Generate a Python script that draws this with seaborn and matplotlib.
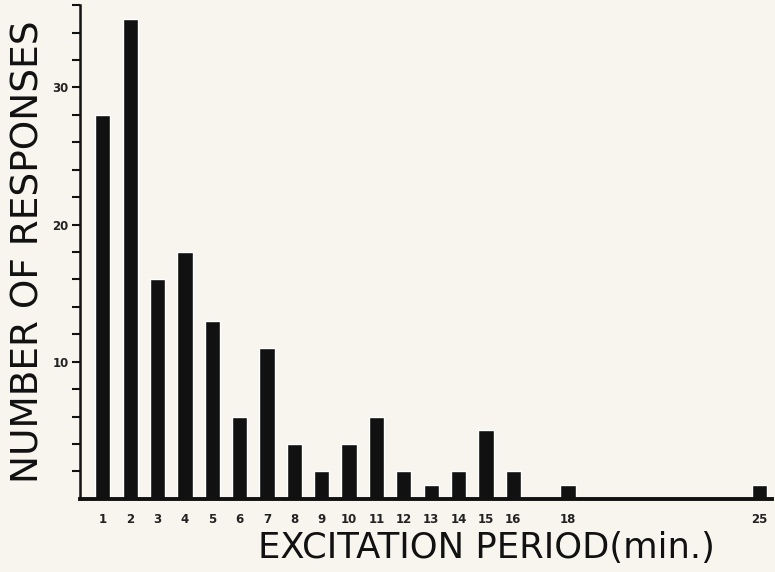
import numpy as np
import pandas as pd
import matplotlib
matplotlib.use('Agg')
import matplotlib.pyplot as plt
import seaborn as sns

# excitation period (min.) and number of responses
periods = [1, 2, 3, 4, 5, 6, 7, 8, 9, 10, 11, 12, 13, 14, 15, 16, 18, 25]
responses = [28, 35, 16, 18, 13, 6, 11, 4, 2, 4, 6, 2, 1, 2, 5, 2, 1, 1]
y_ticks = list(range(2, 37, 2))
y_labels = ['10' if t == 10 else '20' if t == 20 else '30' if t == 30 else '' for t in y_ticks]

df = pd.DataFrame({'period': periods, 'responses': responses})

sns.set_style('ticks')
plt.rcParams['font.family'] = ['DejaVu Sans']
bg = '#f8f5ef'

fig = plt.figure(figsize=(7.75, 5.72), dpi=100, facecolor=bg)
ax = fig.add_axes([0.103, 0.128, 0.893, 0.863], facecolor=bg)

sns.barplot(data=df, x='period', y='responses', native_scale=True,
            width=0.56, color='#111111', saturation=1, ax=ax)

ax.set_xlim(0.16, 25.45)
ax.set_ylim(0, 36)
ax.set_xticks(periods)
ax.set_xticklabels([str(p) for p in periods], fontsize=8.5, fontweight='bold', color='#222222')
ax.tick_params(axis='x', length=0, pad=10)
ax.set_yticks(y_ticks)
ax.set_yticklabels(y_labels, fontsize=8.5, fontweight='bold', color='#222222')
ax.tick_params(axis='y', length=6, width=1.5, color='#111111', pad=2)

sns.despine(ax=ax)
ax.spines['left'].set_linewidth(1.8)
ax.spines['bottom'].set_linewidth(2.8)
ax.spines['left'].set_color('#111111')
ax.spines['bottom'].set_color('#111111')

ax.set_xlabel('EXCITATION PERIOD(min.)', fontsize=25.5, color='#111111')
ax.xaxis.set_label_coords(0.588, -0.066)
ax.set_ylabel('NUMBER OF RESPONSES', fontsize=27, color='#111111')
ax.yaxis.set_label_coords(-0.048, 0.5)

fig.savefig('out.png', dpi=100, facecolor=bg)
